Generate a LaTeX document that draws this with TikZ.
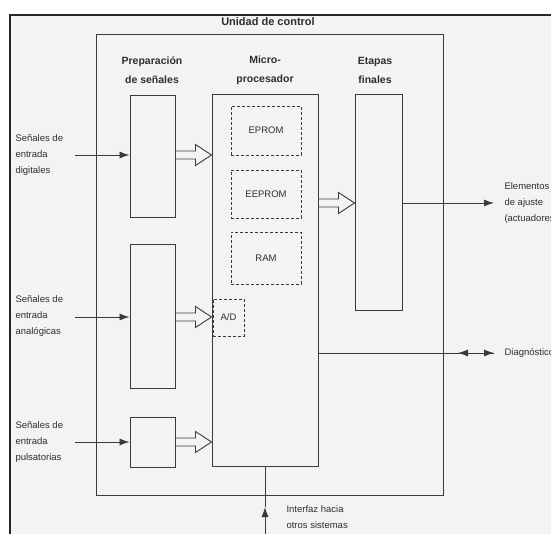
\documentclass[tikz,border=0pt]{standalone}
\usepackage{fontspec}
\setmainfont{Liberation Sans}
\usetikzlibrary{arrows.meta,calc}
\definecolor{linea}{HTML}{3A3A3A}
\definecolor{texto}{HTML}{2E2E2E}
\definecolor{fondo}{HTML}{F3F3F3}
\newcommand{\flechahueca}[2]{%
  \draw[hueca] let \p1=(#1), \p2=(#2) in
    (\x1,\y1+4pt) -- (\x2-16pt,\y1+4pt) -- (\x2-16pt,\y1+10.5pt) -- (\x2,\y1)
    -- (\x2-16pt,\y1-10.5pt) -- (\x2-16pt,\y1-4pt) -- (\x1,\y1-4pt) -- cycle;}
\begin{document}
\begin{tikzpicture}
  [x=1pt,y=-1pt,
   caja/.style={rectangle,draw=linea,line width=1pt,inner sep=0pt},
   memoria/.style={rectangle,draw=linea,line width=0.9pt,dash pattern=on 3pt off 2pt,
                   inner sep=0pt,text=texto,font=\fontsize{9.5}{11}\selectfont},
   titulo/.style={font=\bfseries\fontsize{10.5}{19}\selectfont,align=center,text=texto},
   rotulo/.style={font=\fontsize{9.5}{16}\selectfont,align=left,text=texto},
   senal/.style={draw=linea,line width=0.9pt,-{Latex[length=10pt,width=7pt]}},
   hueca/.style={draw=linea,line width=0.9pt,fill=fondo}]
\useasboundingbox (0,0) rectangle (551,534); % fix page size
\fill[white] (0,0) rectangle (551,534);
\fill[fondo] (10,15) rectangle (551,534);
\draw[line width=1.3pt,black!85] (10,534) -- (10,15) -- (551,15);
%
\node at (268,22) (unidad) [titulo,font=\bfseries\fontsize{11}{13}\selectfont] {Unidad de control};
\node at (269.5,265) (control) [caja,minimum width=347pt,minimum height=460pt] {};
%
\node at (152,70) (tprep) [titulo] {Preparación\\de señales};
\node at (265,70) (tmicro) [titulo] {Micro-\\procesador};
\node at (375,70) (tfinal) [titulo] {Etapas\\finales};
%
\node at (152.5,157) (prep1) [caja,minimum width=45pt,minimum height=122pt] {};
\node at (152.5,316.5) (prep2) [caja,minimum width=45pt,minimum height=143pt] {};
\node at (152.5,442) (prep3) [caja,minimum width=45pt,minimum height=50pt] {};
\node at (265,280.5) (micro) [caja,minimum width=106pt,minimum height=371pt] {};
\node at (378.5,203) (final) [caja,minimum width=47pt,minimum height=216pt] {};
%
\node at (266,130.5) (eprom) [memoria,minimum width=70pt,minimum height=49pt] {EPROM};
\node at (266,194) (eeprom) [memoria,minimum width=70pt,minimum height=48pt] {EEPROM};
\node at (266,258) (ram) [memoria,minimum width=70pt,minimum height=52pt] {RAM};
\node at (228.5,317.5) (ad) [memoria,minimum width=31pt,minimum height=37pt] {A/D};
%
\node at (12,155) (digital) [rotulo,anchor=west] {Señales de\\entrada\\digitales};
\node at (12,316) (analog) [rotulo,anchor=west] {Señales de\\entrada\\analógicas};
\node at (12,442) (pulso) [rotulo,anchor=west] {Señales de\\entrada\\pulsatorias};
\coordinate (in1) at (75,155);
\coordinate (in2) at (75,317);
\coordinate (in3) at (75,442);
\draw[senal] (in1) -- (prep1.west |- in1);
\draw[senal] (in2) -- (prep2.west |- in2);
\draw[senal] (in3) -- (prep3.west |- in3);
%
\flechahueca{prep1.east |- in1}{micro.west |- in1}
\flechahueca{prep2.east |- in2}{micro.west |- in2}
\flechahueca{prep3.east |- in3}{micro.west |- in3}
\flechahueca{micro.east |- final}{final.west}
%
\node at (501,203) (actuador) [rotulo,anchor=west] {Elementos\\de ajuste\\(actuadores)};
\coordinate (salida) at (494,203);
\draw[senal] (final.east) -- (salida);
%
\node at (501,353) (diagnostico) [rotulo,anchor=west] {Diagnóstico};
\coordinate (diag) at (494,353);
\coordinate (diagizq) at (458,353);
\draw[senal] (micro.east |- diag) -- (diag);
\draw[senal] (diag) -- (diagizq);
%
\node at (283,517) (interfaz) [rotulo,anchor=west] {Interfaz hacia\\otros sistemas};
\coordinate (bus) at (265,545);
\coordinate (puntabus) at (265,507);
\draw[senal] (bus) -- (puntabus);
\draw[draw=linea,line width=0.9pt] (puntabus) -- (micro.south);
\end{tikzpicture}
\end{document}
